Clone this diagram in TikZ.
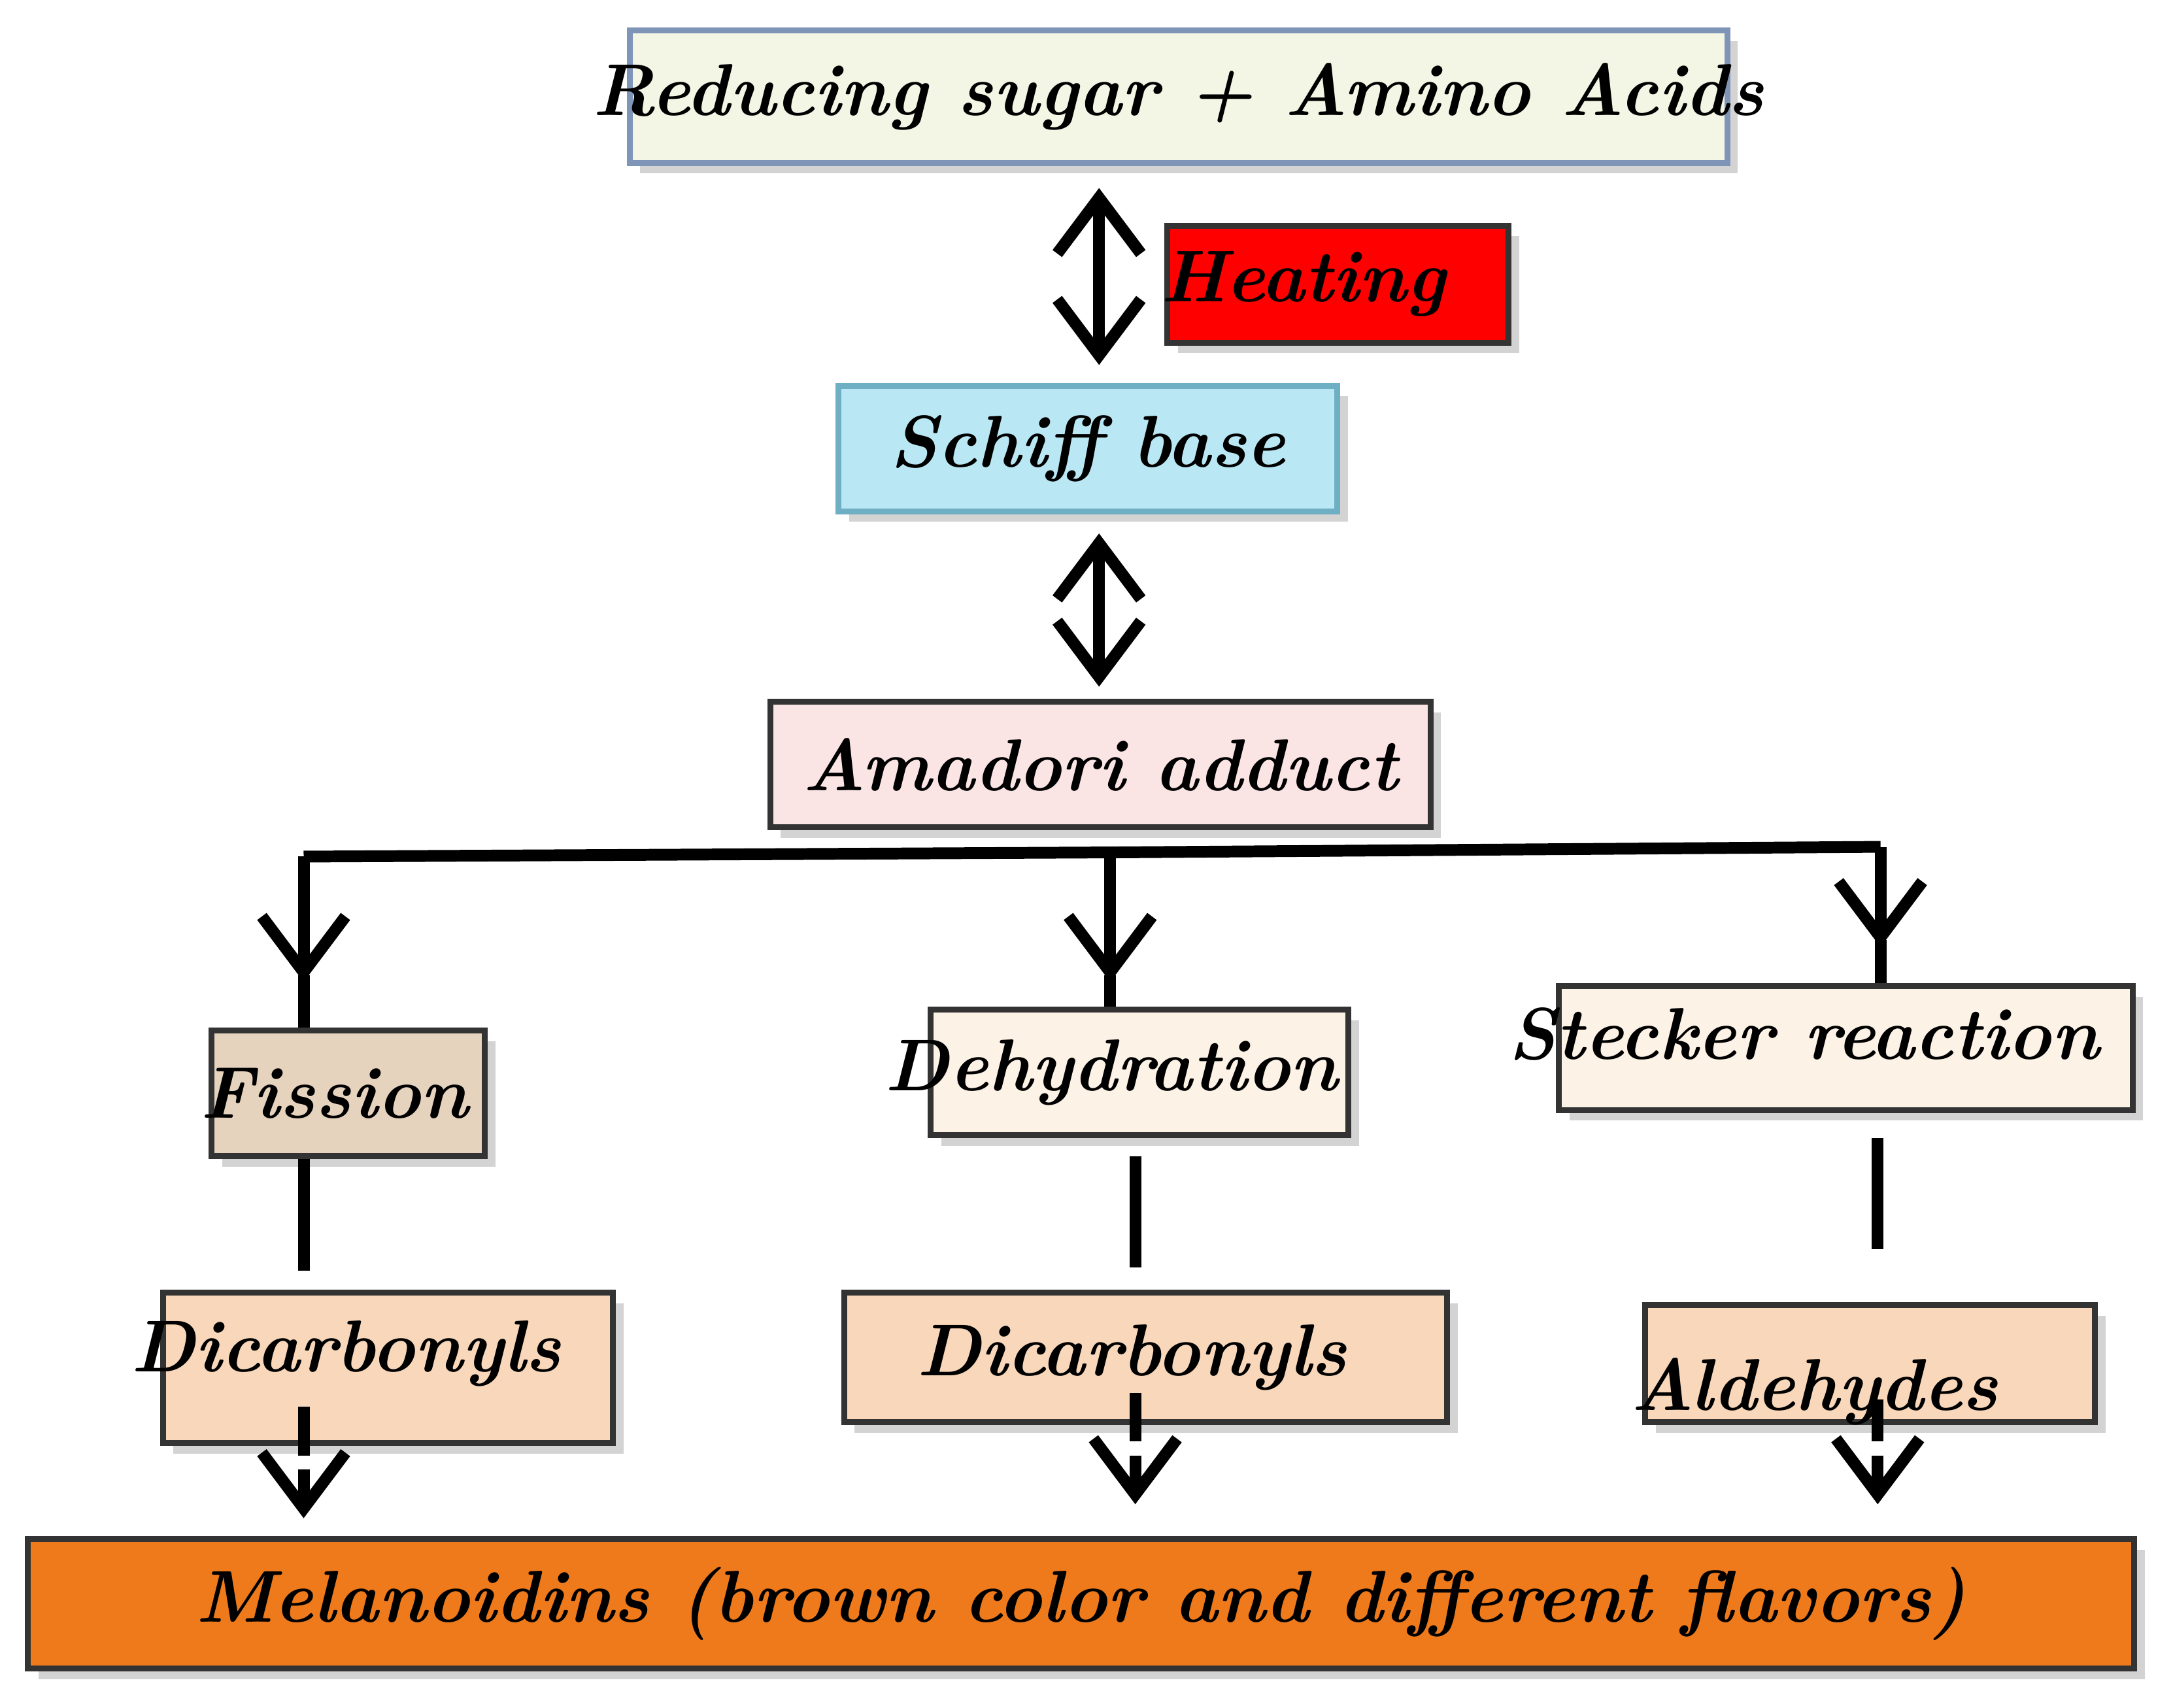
\documentclass[tikz,border=0pt]{standalone}
\usepackage{xcolor}
\usetikzlibrary{arrows.meta,shadows,calc}
\definecolor{topfill}{HTML}{F3F6E4}
\definecolor{topedge}{HTML}{7F95B8}
\definecolor{schifffill}{HTML}{B9E8F4}
\definecolor{schiffedge}{HTML}{6FAFC4}
\definecolor{amafill}{HTML}{FBE4E4}
\definecolor{stepfill}{HTML}{FCF2E6}
\definecolor{fisfill}{HTML}{E6D3BE}
\definecolor{dicfill}{HTML}{F8D7BA}
\definecolor{melfill}{HTML}{EE7A1C}
\tikzset{
  box/.style={draw=black!80, line width=1.2pt, drop shadow={opacity=0.35}, inner sep=0pt},
  lbl/.style={font=\fontsize{15}{18}\selectfont\bfseries\itshape},
  flow/.style={line width=2.4pt, -{Straight Barb[length=4mm,width=6mm,line width=2.4pt]}},
  both/.style={line width=2.4pt, {Straight Barb[length=4mm,width=6mm,line width=2.4pt]}-{Straight Barb[length=4mm,width=6mm,line width=2.4pt]}},
  dashlink/.style={line width=2.4pt, dash pattern=on 8mm off 4mm},
}
\newcommand{\boxat}[6]{% name, x1, y1, x2, y2, options
  \node[box, #6, minimum width={((#4)-(#2))*1cm}, minimum height={((#3)-(#5))*1cm}] (#1) at ({((#2)+(#4))/2},{((#3)+(#5))/2}) {};}
\begin{document}
\begin{tikzpicture}
\useasboundingbox (0,0) rectangle (15.6,-12.26);
\boxat{react}{4.52}{-0.22}{12.40}{-1.17}{fill=topfill, draw=topedge}
\node[lbl] at (react) {Reducing sugar + Amino Acids};
\boxat{heat}{8.38}{-1.62}{10.83}{-2.46}{fill=red}
\node[lbl] at ($(heat)+(-0.25,0)$) {Heating};
\boxat{schiff}{6.02}{-2.77}{9.60}{-3.67}{fill=schifffill, draw=schiffedge}
\node[lbl] at (schiff) {Schiff base};
\boxat{amadori}{5.53}{-5.04}{10.27}{-5.94}{fill=amafill}
\node[lbl] at (amadori) {Amadori adduct};
\boxat{fission}{1.52}{-7.40}{3.48}{-8.30}{fill=fisfill}
\node[lbl] at ($(fission)+(-0.1,0)$) {Fission};
\boxat{dehyd}{6.68}{-7.25}{9.68}{-8.15}{fill=stepfill}
\node[lbl] at ($(dehyd)+(-0.2,0)$) {Dehydration};
\boxat{stecker}{11.19}{-7.08}{15.31}{-7.97}{fill=stepfill}
\node[lbl] at ($(stecker)+(-0.3,0.1)$) {Stecker reaction};
\boxat{dicarbA}{1.17}{-9.28}{4.40}{-10.36}{fill=dicfill}
\node[lbl] at ($(dicarbA)+(-0.3,0.1)$) {Dicarbonyls};
\boxat{dicarbB}{6.06}{-9.28}{10.39}{-10.21}{fill=dicfill}
\node[lbl] at ($(dicarbB)+(-0.1,0)$) {Dicarbonyls};
\boxat{aldeh}{11.81}{-9.37}{15.04}{-10.21}{fill=dicfill}
\node[lbl] at ($(aldeh)+(-0.4,-0.2)$) {Aldehydes};
\boxat{melan}{0.20}{-11.05}{15.32}{-11.98}{fill=melfill}
\node[lbl] at (melan) {Melanoidins (brown color and different flavors)};
% branch points
\coordinate (bl) at (2.18,-6.15);
\coordinate (bm) at (7.97,-6.12);
\coordinate (br) at (13.50,-6.08);
% upper arrows
\draw[both] (7.89,-1.35) -- (7.89,-2.62);
\draw[both] (7.89,-3.83) -- (7.89,-4.93);
\draw[line width=2.4pt] (bl) -- (bm) -- (br);
\draw[flow] (bl) -- (2.18,-7.05);
\draw[line width=2.4pt] (2.18,-7.0) -- (fission.north -| bl);
\draw[flow] (bm) -- (7.97,-7.05);
\draw[line width=2.4pt] (7.97,-7.0) -- (dehyd.north -| bm);
\draw[flow] (br) -- (13.50,-6.80);
\draw[line width=2.4pt] (13.50,-6.75) -- (stecker.north -| br);
% dashed links
\draw[dashlink] (fission.south -| bl) -- (dicarbA.north -| bl);
\draw[dashlink] (8.15,-8.30) -- (8.15,-9.28);
\draw[dashlink] (13.48,-8.17) -- (13.48,-9.12);
\draw[line width=2.4pt] (2.18,-10.1) -- (2.18,-10.45);
\draw[flow] (2.18,-10.55) -- (2.18,-10.9);
\draw[line width=2.4pt] (8.15,-10.0) -- (8.15,-10.35);
\draw[flow] (8.15,-10.45) -- (8.15,-10.8);
\draw[line width=2.4pt] (13.48,-10.05) -- (13.48,-10.35);
\draw[flow] (13.48,-10.45) -- (13.48,-10.8);
\end{tikzpicture}
\end{document}
